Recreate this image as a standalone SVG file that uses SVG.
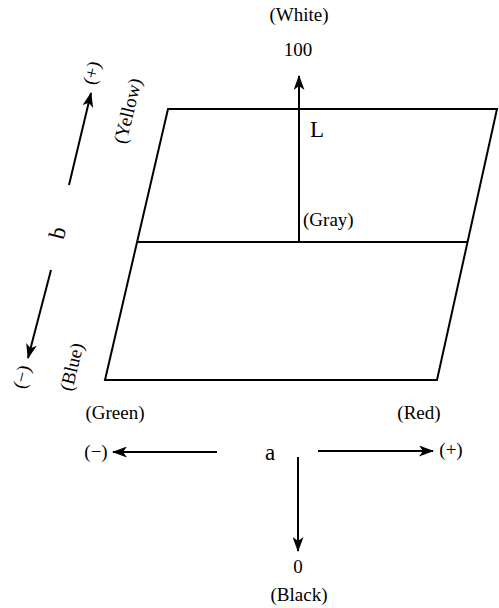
<svg xmlns="http://www.w3.org/2000/svg" width="499" height="608" viewBox="0 0 499 608">
<style>
text{font-family:"Liberation Serif","Times New Roman",serif;fill:#000;font-size:19px;text-anchor:middle}
.ln{stroke:#000;stroke-width:2;fill:none}
.ax{stroke:#000;stroke-width:2;fill:none;marker-end:url(#ah)}
.big{font-size:23px}
</style>
<defs>
<marker id="ah" viewBox="0 0 15 11" refX="14" refY="5.5" markerWidth="15" markerHeight="11" markerUnits="userSpaceOnUse" orient="auto">
<path d="M0,0 L15,5.5 L0,11 L4,5.5 Z" fill="#000"/>
</marker>
</defs>
<g id="plane">
<polygon class="ln" points="168,109 497,109 437,380 105,380"/>
<line class="ln" x1="138" y1="242" x2="468" y2="242"/>
</g>
<g id="connectors">
<line class="ax" x1="299" y1="242" x2="299" y2="76"/>
<line class="ax" x1="298" y1="457" x2="298" y2="551"/>
<line class="ax" x1="217" y1="452" x2="113" y2="452"/>
<line class="ax" x1="318" y1="451" x2="433" y2="451"/>
<line class="ax" x1="69" y1="185" x2="91" y2="93"/>
<line class="ax" x1="51" y1="270" x2="28" y2="358"/>
</g>
<g id="labels">
<text x="299" y="21">(White)</text>
<text x="298" y="56">100</text>
<text x="310" y="137" class="big" style="text-anchor:start">L</text>
<text x="303" y="226" style="text-anchor:start">(Gray)</text>
<text x="115" y="419">(Green)</text>
<text x="419" y="419">(Red)</text>
<text x="96" y="458">(−)</text>
<text x="451" y="456">(+)</text>
<text x="270" y="460" class="big">a</text>
<text x="298" y="573">0</text>
<text x="299" y="601">(Black)</text>
<text transform="translate(92,73) rotate(-76)" y="6">(+)</text>
<text transform="translate(128,111) rotate(-76)" y="6">(Yellow)</text>
<text transform="translate(58,233) rotate(-76)" y="7" class="big">b</text>
<text transform="translate(72,367) rotate(-76)" y="6">(Blue)</text>
<text transform="translate(22,377) rotate(-76)" y="6">(−)</text>
</g>
</svg>
